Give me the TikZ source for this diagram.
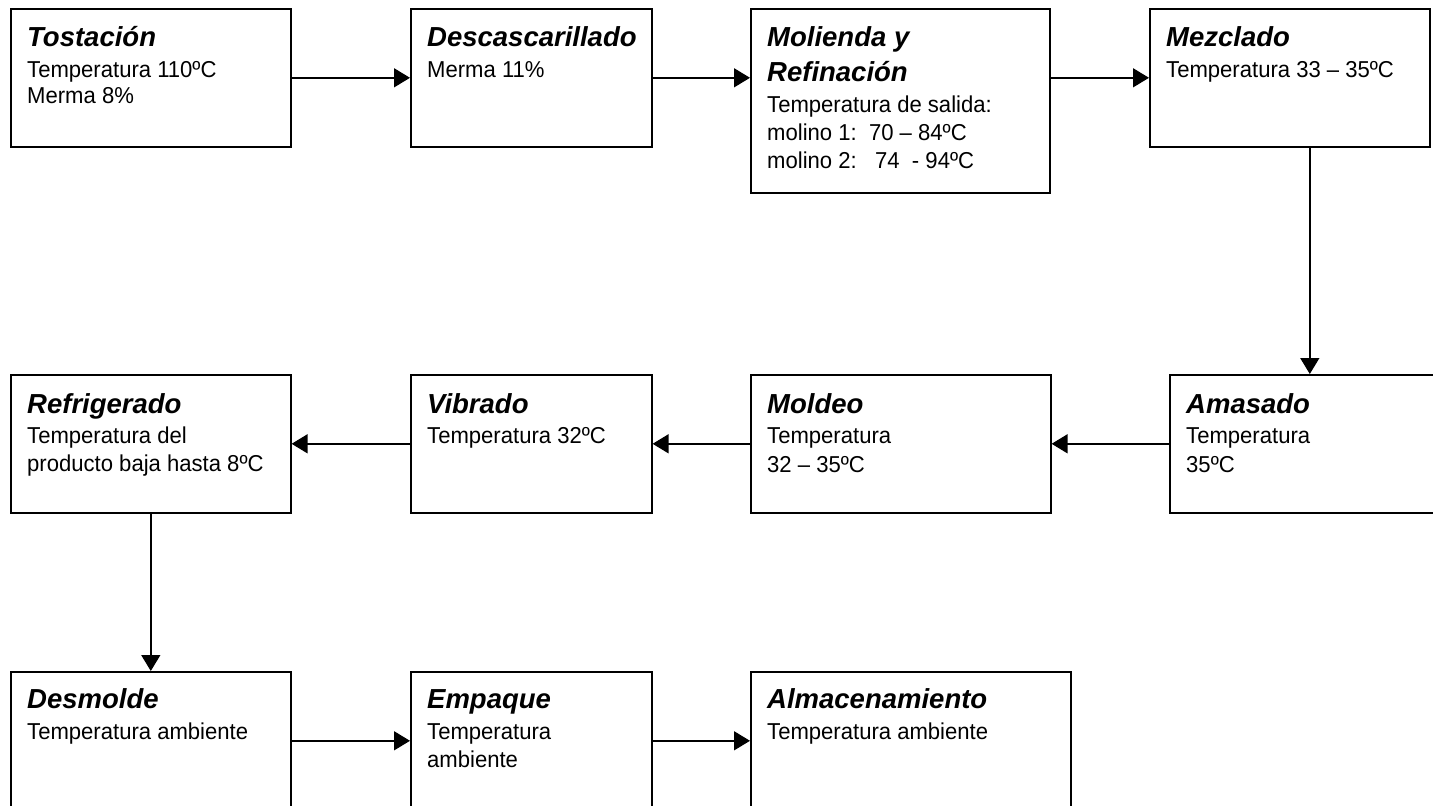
\documentclass[tikz,border=0pt]{standalone}
\usepackage{fontspec}
\setmainfont[FakeStretch=0.96]{Liberation Sans}
\newfontfamily\headfont{Liberation Sans}
\usetikzlibrary{arrows.meta}

% one stage title line (bold italic) and the vertical gap helper
\newcommand\stagetitle[1]{\hbox{\headfont\fontsize{27.5}{27}\selectfont\bfseries\itshape #1}}
\newcommand\gap[1]{\vskip #1pt}
% stacked text lines with fixed baseline distance
\newcommand\stagelines[1]{\vtop{\lineskiplimit=-200pt\lineskip=0pt #1}}

\tikzset{
  stagebox/.style={draw=black, line width=1.6pt, rectangle, inner sep=0pt,
    anchor=north west, fill=white},
  stagetext/.style={anchor=base west, inner sep=0pt, text=black,
    font=\fontsize{23}{27}\selectfont},
  flow/.style={draw=black, line width=1.5pt,
    -{Triangle[length=16pt, width=19pt]}}
}

\begin{document}
\begin{tikzpicture}[x=1pt, y=-1pt]
\useasboundingbox (0,0) rectangle (1433,806);
\fill[white] (0,0) rectangle (1433,806);
\clip (0,0) rectangle (1433,806);

% ---- first row ----
\node[stagebox, minimum width=280pt, minimum height=138pt] (tost) at (10,8) {};
\node[stagebox, minimum width=241pt, minimum height=138pt] (desc) at (410,8) {};
\node[stagebox, minimum width=299pt, minimum height=184pt] (moli) at (750,8) {};
\node[stagebox, minimum width=280pt, minimum height=138pt] (mezc) at (1149,8) {};

% ---- second row ----
\node[stagebox, minimum width=280pt, minimum height=138pt] (amas) at (1169,374) {};
\node[stagebox, minimum width=300pt, minimum height=138pt] (mold) at (750,374) {};
\node[stagebox, minimum width=241pt, minimum height=138pt] (vibr) at (410,374) {};
\node[stagebox, minimum width=280pt, minimum height=138pt] (refr) at (10,374) {};

% ---- third row ----
\node[stagebox, minimum width=280pt, minimum height=138pt] (desm) at (10,671) {};
\node[stagebox, minimum width=241pt, minimum height=138pt] (empq) at (410,671) {};
\node[stagebox, minimum width=320pt, minimum height=138pt] (alma) at (750,671) {};

% ---- texts ----
\node[stagetext] (tost-t) at ([shift={(17,38)}]tost.north west)
  {\stagelines{\stagetitle{Tostación}\gap{4}\hbox{Temperatura 110ºC}\gap{-1}\hbox{Merma 8\%}}};
\node[stagetext] (desc-t) at ([shift={(17,38)}]desc.north west)
  {\stagelines{\stagetitle{Descascarillado}\gap{4}\hbox{Merma 11\%}}};
\node[stagetext] (moli-t) at ([shift={(17,38)}]moli.north west)
  {\stagelines{\stagetitle{Molienda y}\gap{8}\stagetitle{Refinación}\gap{4}%
    \hbox{Temperatura de salida:}\gap{1}\hbox{molino 1:\ \ 70 – 84ºC}\gap{1}%
    \hbox{molino 2:\ \ \ 74\ \ - 94ºC}}};
\node[stagetext] (mezc-t) at ([shift={(17,38)}]mezc.north west)
  {\stagelines{\stagetitle{Mezclado}\gap{4}\hbox{Temperatura 33 – 35ºC}}};

\node[stagetext] (amas-t) at ([shift={(17,39)}]amas.north west)
  {\stagelines{\stagetitle{Amasado}\gap{3}\hbox{Temperatura}\gap{2}\hbox{35ºC}}};
\node[stagetext] (mold-t) at ([shift={(17,39)}]mold.north west)
  {\stagelines{\stagetitle{Moldeo}\gap{3}\hbox{Temperatura}\gap{2}\hbox{32 – 35ºC}}};
\node[stagetext] (vibr-t) at ([shift={(17,39)}]vibr.north west)
  {\stagelines{\stagetitle{Vibrado}\gap{3}\hbox{Temperatura 32ºC}}};
\node[stagetext] (refr-t) at ([shift={(17,39)}]refr.north west)
  {\stagelines{\stagetitle{Refrigerado}\gap{3}\hbox{Temperatura del}\gap{1}\hbox{producto baja hasta 8ºC}}};

\node[stagetext] (desm-t) at ([shift={(17,37)}]desm.north west)
  {\stagelines{\stagetitle{Desmolde}\gap{4}\hbox{Temperatura ambiente}}};
\node[stagetext] (empq-t) at ([shift={(17,37)}]empq.north west)
  {\stagelines{\stagetitle{Empaque}\gap{4}\hbox{Temperatura}\gap{1}\hbox{ambiente}}};
\node[stagetext] (alma-t) at ([shift={(17,37)}]alma.north west)
  {\stagelines{\stagetitle{Almacenamiento}\gap{4}\hbox{Temperatura ambiente}}};

% ---- connectors ----
\draw[flow] (tost.east) -- (desc.west);
\draw[flow] (desc.east) -- (desc.east -| moli.west);
\draw[flow] (mezc.west -| moli.east) -- (mezc.west);
\draw[flow] (mezc.south -| amas.north) -- (amas.north);
\draw[flow] (amas.west) -- (mold.east);
\draw[flow] (mold.west) -- (vibr.east);
\draw[flow] (vibr.west) -- (refr.east);
\draw[flow] (refr.south) -- (desm.north);
\draw[flow] (desm.east) -- (empq.west);
\draw[flow] (empq.east) -- (alma.west);
\end{tikzpicture}
\end{document}
